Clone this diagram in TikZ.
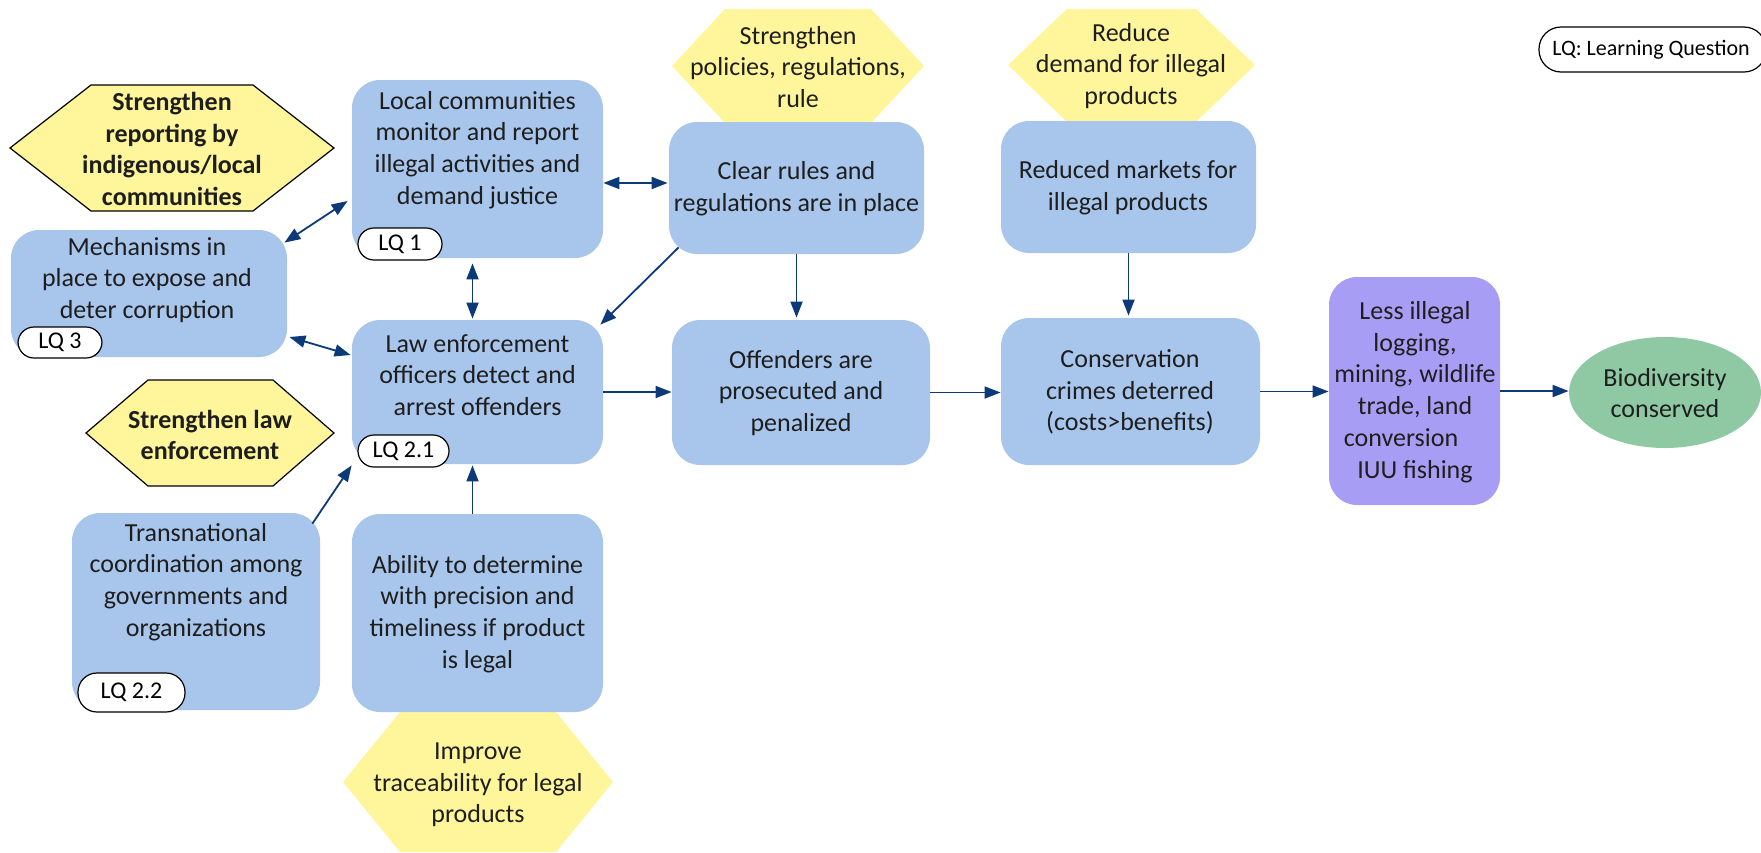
\documentclass[tikz,border=0pt]{standalone}
\usepackage{fontspec}
\setmainfont{Carlito}
\usetikzlibrary{arrows.meta,fit,shapes.geometric}
\definecolor{boxblue}{HTML}{A8C6EC}
\definecolor{boxpurple}{HTML}{A89DF5}
\definecolor{boxgreen}{HTML}{8EC9A4}
\definecolor{hexyellow}{HTML}{FFF59B}
\definecolor{arrowc}{RGB}{12,58,120}
\definecolor{textc}{HTML}{1E1E1E}
\begin{document}
\begin{tikzpicture}[x=0.5pt,y=-0.5pt,
  box/.style={fill=boxblue, draw=none, rounded corners=14pt, inner sep=0pt},
  txt/.style={align=center, font=\fontsize{13pt}{15.85pt}\selectfont, text=textc, inner sep=0pt},
  btxt/.style={txt, font=\fontsize{13pt}{15.85pt}\selectfont\bfseries},
  pill/.style={draw=black, fill=white, line width=0.6pt, inner sep=0pt},
  ptxt/.style={font=\fontsize{12pt}{14pt}\selectfont, text=black, inner sep=0pt},
  ltxt/.style={font=\fontsize{11pt}{13pt}\selectfont, text=black, inner sep=0pt},
  hexb/.style={fill=hexyellow, draw=black, line width=0.6pt},
  hexn/.style={fill=hexyellow, draw=none},
  arr/.style={draw=arrowc, line width=0.9pt, -{Triangle[length=8pt,width=6pt]}},
  dbl/.style={draw=arrowc, line width=0.9pt, {Triangle[length=8pt,width=6pt]}-{Triangle[length=8pt,width=6pt]}}
]
\useasboundingbox (0,0) rectangle (1761,852);

% hexagons
\filldraw[hexb] (10,148) -- (91,85) -- (253,85) -- (334,148) -- (253,211) -- (91,211) -- cycle;
\node[btxt] (treport) at (172,149) {Strengthen\\reporting by\\indigenous/local\\communities};
\filldraw[hexb] (86,433) -- (148,380) -- (273,380) -- (334,433) -- (273,486) -- (148,486) -- cycle;
\node[btxt] (tlawenf) at (210,435) {Strengthen law\\enforcement};
\fill[hexn] (672,66) -- (725,9) -- (871,9) -- (924,66) -- (871,123) -- (725,123) -- cycle;
\node[txt] (tpolicies) at (798,67) {Strengthen\\policies, regulations,\\rule};
\fill[hexn] (1008,65) -- (1067,9) -- (1196,9) -- (1255,65) -- (1196,122) -- (1067,122) -- cycle;
\node[txt] (treduce) at (1131,66) {Reduce\\demand for illegal\\products};
\fill[hexn] (343,782) -- (400,712) -- (556,712) -- (613,782) -- (556,852) -- (400,852) -- cycle;
\node[txt] (timprove) at (478,785) {Improve\\traceability for legal\\products};

% boxes
\node[box, fit={(352,80)(603,258)}] (local) {};
\node[box, fit={(11,230)(287,357)}] (mech) {};
\node[box, fit={(352,320)(603,464)}] (law) {};
\node[box, fit={(72,513)(320,710)}] (trans) {};
\node[box, fit={(352,514)(603,712)}] (ability) {};
\node[box, fit={(669,122)(924,254)}] (clear) {};
\node[box, fit={(672,320)(930,465)}] (offend) {};
\node[box, fit={(1001,121)(1256,253)}] (markets) {};
\node[box, fit={(1001,318)(1260,465)}] (crimes) {};
\node[box, fill=boxpurple, fit={(1329,277)(1500,505)}] (less) {};
\node[ellipse, fill=boxgreen, inner sep=0pt, minimum width=96pt, minimum height=55.5pt] (bio) at (1665,392.5) {};

% box texts
\node[txt] (tlocal) at (477.5,150) {Local communities\\monitor and report\\illegal activities and\\demand justice};
\node[txt] (tmech) at (147,280) {Mechanisms in\\place to expose and\\deter corruption};
\node[txt] (tlaw) at (477.5,375) {Law enforcement\\officers detect and\\arrest offenders};
\node[txt] (ttrans) at (196,582) {Transnational\\coordination among\\governments and\\organizations};
\node[txt] (tability) at (477.5,614) {Ability to determine\\with precision and\\timeliness if product\\is legal};
\node[txt] (tclear) at (796.5,189) {Clear rules and\\regulations are in place};
\node[txt] (toffend) at (801,393) {Offenders are\\prosecuted and\\penalized};
\node[txt] (tmarkets) at (1128,188) {Reduced markets for\\illegal products};
\node[txt] (tcrimes) at (1130,392) {Conservation\\crimes deterred\\(costs>benefits)};
\node[txt] (tless) at (1415,392) {Less illegal\\logging,\\mining, wildlife\\trade, land\\conversion\hspace{14pt}\null\\IUU fishing};
\node[txt] (tbio) at (1665,393) {Biodiversity\\conserved};

% LQ pills
\node[pill, rounded corners=8pt, fit={(358,228)(442,260)}] (lq1) {};
\node[ptxt] at (lq1.center) {LQ 1};
\node[pill, rounded corners=8pt, fit={(18,327)(102,358)}] (lq3) {};
\node[ptxt] at (lq3.center) {LQ 3};
\node[pill, rounded corners=8pt, fit={(358,435)(449,467)}] (lq21) {};
\node[ptxt] at (lq21.center) {LQ 2.1};
\node[pill, rounded corners=9.5pt, fit={(78,673)(185,712)}] (lq22) {};
\node[ptxt] at (lq22.center) {LQ 2.2};
\node[pill, rounded corners=11pt, fit={(1539,27)(1766,72)}] (legend) {};
\node[ltxt] (tlegend) at (1651,50) {LQ: Learning Question};

% connectors
\draw[dbl] ([shift={(0,14)}]local.east) -- ([shift={(-1,-5)}]clear.west);
\draw[dbl] ([shift={(-3,13)}]mech.north east) -- ([shift={(-4,32)}]local.west);
\draw[dbl] ([shift={(-5,5)}]local.south) -- ([shift={(-5,-1)}]law.north);
\draw[dbl] ([shift={(2,43.5)}]mech.east) -- ([shift={(-1,-37)}]law.west);
\draw[arr] ([shift={(10,-7)}]clear.south west) -- ([shift={(-3,5)}]law.north east);
\draw[arr] (clear.south) -- ([shift={(0,-2)}]clear.south |- offend.north);
\draw[arr] (law.east) -- (law.east -| offend.west);
\draw[arr] (offend.east) -- (offend.east -| crimes.west);
\draw[arr] (markets.south) -- ([shift={(0,-2)}]markets.south |- crimes.north);
\draw[arr] (crimes.east) -- (crimes.east -| less.west);
\draw[arr] (less.east) -- (less.east -| bio.west);
\draw[arr] ([shift={(-8,11)}]trans.north east) -- ([shift={(0,1)}]law.south west);
\draw[arr] ([shift={(-5,0)}]ability.north) -- ([shift={(-5,1)}]law.south);
\end{tikzpicture}
\end{document}
